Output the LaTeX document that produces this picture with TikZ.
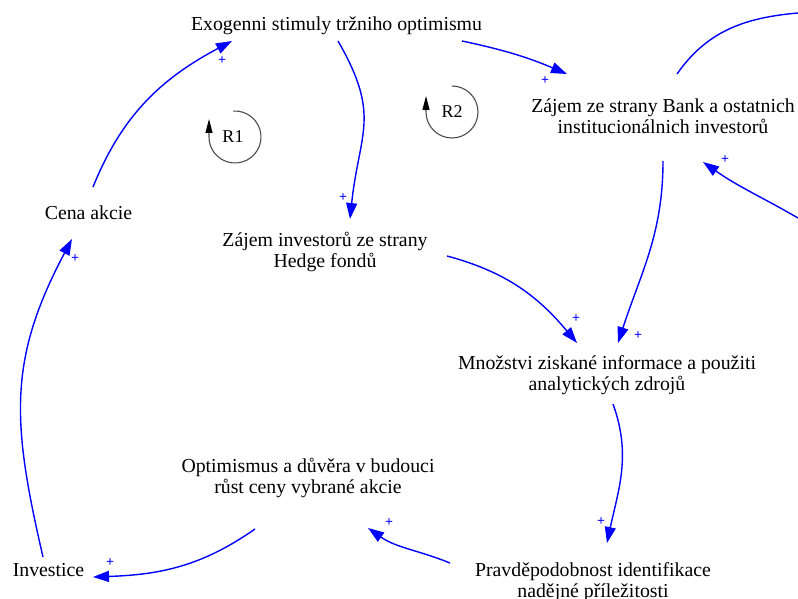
\documentclass[tikz,border=0pt]{standalone}
\usepackage{fontspec}
\setmainfont{Liberation Serif}
\usetikzlibrary{arrows.meta,calc}
\begin{document}
\begin{tikzpicture}[x=1pt,y=1pt,
  var/.style={align=center, inner sep=0pt, font=\fontsize{19.8}{21}\selectfont},
  link/.style={draw=blue, line width=1.4pt, -{Triangle[length=16pt,width=11pt]}},
  pol/.style={text=blue, font=\fontsize{14}{14}\selectfont\bfseries, inner sep=0pt},
  loopc/.style={draw=black!70, line width=1.1pt, -{Triangle[length=14pt,width=7pt,color=black]}},
  looplbl/.style={inner sep=0pt, font=\fontsize{18}{18}\selectfont}
]
\useasboundingbox (0,0) rectangle (798,598);

% variables
\node[var] (exo)   at (336.5,571.2) {\strut Exogenni stimuly tržniho optimismu\strut};
\node[var] (bank)  at (663,478.7)   {\strut Zájem ze strany Bank a ostatnich\\ institucionálnich investorů\strut};
\node[var] (cena)  at (88.5,382.2)  {\strut Cena akcie\strut};
\node[var] (hedge) at (325,345.2)   {\strut Zájem investorů ze strany\\ Hedge fondů\strut};
\node[var] (mnoz)  at (607,222.2)   {\strut Množstvi ziskané informace a použiti\\ analytických zdrojů\strut};
\node[var] (opt)   at (308,119.2)   {\strut Optimismus a důvěra v budouci\\ růst ceny vybrané akcie\strut};
\node[var] (inv)   at (48.5,26.2)   {\strut Investice\strut};
\node[var] (prav)  at (593,15.7)    {\strut Pravděpodobnost identifikace\\ nadějné příležitosti\strut};

% loose ends of the loop leaving on the right
\coordinate (outA) at (798,585);
\coordinate (outB) at (798,380);

% causal links
\draw[link] ($(cena)+(4.5,28.8)$) to[out=68,in=208] ($(exo)+(-104.5,-14.2)$);
\draw[link] ($(exo)+(1.5,-14.2)$) to[out=-60,in=84,looseness=1.25] ($(hedge)+(25,33.8)$);
\draw[link] ($(exo)+(125.5,-14.2)$) to[out=-12,in=157] ($(bank)+(-96,45.3)$);
\draw[link] ($(bank)+(0,-41.7)$) to[out=-90,in=72] ($(mnoz)+(11,32.8)$);
\draw[link] ($(hedge)+(122,-3.2)$) to[out=-15,in=130] ($(mnoz)+(-30,32.8)$);
\draw[link] ($(mnoz)+(6,-28.2)$) to[out=-70,in=78] ($(prav)+(14,39.3)$);
\draw[link] ($(prav)+(-143,19.3)$) to[out=158,in=-35] ($(opt)+(60,-49.2)$);
\draw[link] ($(opt)+(-53,-50.2)$) to[out=-145,in=2] ($(inv)+(44.5,-5.2)$);
\draw[link] ($(inv)+(-5.5,14.8)$) to[out=103,in=-118,looseness=1.1] ($(cena)+(-16.5,-23.2)$);
\draw[link,-] ($(bank)+(14,45.3)$) to[out=55,in=185] (outA);
\draw[link] (outB) to[out=150,in=-35] ($(bank)+(40,-42.7)$);

% polarities
\node[pol] (p1)  at (222,537) {+};
\node[pol] (p2)  at (343,400) {+};
\node[pol] (p3)  at (545,517) {+};
\node[pol] (p4)  at (638,262) {+};
\node[pol] (p5)  at (576,279) {+};
\node[pol] (p6)  at (601,76)  {+};
\node[pol] (p7)  at (389,75)  {+};
\node[pol] (p8)  at (110,35)  {+};
\node[pol] (p9)  at (75,339)  {+};
\node[pol] (p11) at (725,438) {+};

% reinforcing loop markers
\node[looplbl] (r1) at (233,461) {R1};
\draw[loopc] ($(r1)+(2,0)+(94:26)$) arc[start angle=94, end angle=-180, radius=26] -- ++(0,18);
\node[looplbl] (r2) at (452,486) {R2};
\draw[loopc] ($(r2)+(90:26)$) arc[start angle=90, end angle=-180, radius=26] -- ++(0,16);
\end{tikzpicture}
\end{document}
